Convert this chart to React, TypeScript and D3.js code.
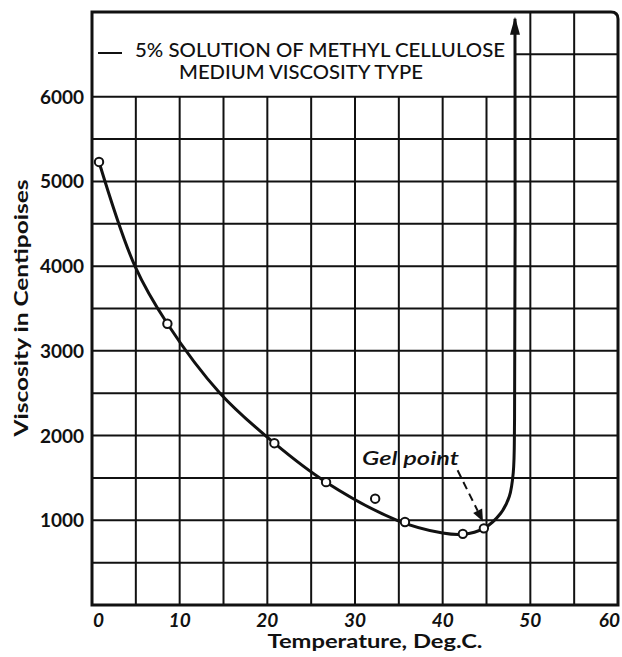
import React from "react";
import * as d3 from "d3";

// ---- data ----
const tempTicks = [0, 10, 20, 30, 40, 50, 60];
const viscTicks = [1000, 2000, 3000, 4000, 5000, 6000];
const measuredTemp = [0.8, 8.6, 20.8, 26.7, 32.3, 35.7, 42.3, 44.7];
const measuredVisc = [5230, 3320, 1910, 1450, 1255, 980, 840, 905];
// smoothed curve as drawn in the chart
const curveTemp = [0.8, 4.9, 8.6, 14.6, 20.8, 26.7, 34.8, 40.0, 42.3, 44.7, 46.6, 47.6, 48.05, 48.2, 48.25];
const curveVisc = [5230, 4000, 3320, 2500, 1910, 1450, 1000, 850, 835, 905, 1080, 1280, 1560, 2200, 6920];
const legendLines = ["5% SOLUTION OF METHYL CELLULOSE", "MEDIUM VISCOSITY TYPE"];
const gelLabel = "Gel point";
const xTitle = "Temperature, Deg.C.";
const yTitle = "Viscosity in Centipoises";

const W = 622;
const H = 657;
const FONT = "Lato, 'DejaVu Sans', sans-serif";

export default function App() {
  const x = d3.scaleLinear().domain([0, 60]).range([92, 618]);
  const y = d3.scaleLinear().domain([0, 7000]).range([605, 12]);

  const vGrid = d3.range(5, 60, 5);
  const hGrid = d3.range(500, 6001, 500);

  const curvePts: [number, number][] = curveTemp.map((t, i) => [t, curveVisc[i]]);
  const line = d3
    .line<[number, number]>()
    .x((d) => x(d[0]))
    .y((d) => y(d[1]))
    .curve(d3.curveCatmullRom.alpha(0.5));

  const last = curvePts[curvePts.length - 1];
  const ax = x(last[0]);
  const ay = y(last[1]);

  // gel point annotation in data coordinates
  const gelStart: [number, number] = [41.7, 1590];
  const gelTip: [number, number] = [44.6, 985];
  const gx0 = x(gelStart[0]);
  const gy0 = y(gelStart[1]);
  const gx1 = x(gelTip[0]);
  const gy1 = y(gelTip[1]);
  const ang = Math.atan2(gy1 - gy0, gx1 - gx0);
  const headLen = 12;
  const headW = 5;
  const bx = gx1 - headLen * Math.cos(ang);
  const by = gy1 - headLen * Math.sin(ang);
  const px = -Math.sin(ang);
  const py = Math.cos(ang);

  const left = x(0);
  const right = x(60);
  const top = y(7000);
  const bottom = y(0);
  const r = 7;

  return (
    <svg
      width={W}
      height={H}
      style={{ position: "absolute", left: 0, top: 0, background: "#fff" }}
    >
      <rect x={0} y={0} width={W} height={H} fill="#fff" />
      {/* vertical gridlines */}
      {vGrid.map((t) => (
        <line
          key={"v" + t}
          x1={x(t)}
          x2={x(t)}
          y1={y(0)}
          y2={t >= 50 ? y(7000) : y(6000)}
          stroke="#111"
          strokeWidth={2}
        />
      ))}
      {/* horizontal gridlines */}
      {hGrid.map((v) => (
        <line
          key={"h" + v}
          x1={x(0)}
          x2={x(60)}
          y1={y(v)}
          y2={y(v)}
          stroke="#111"
          strokeWidth={2}
        />
      ))}
      <line x1={x(48.25)} x2={x(60)} y1={y(6500)} y2={y(6500)} stroke="#111" strokeWidth={2} />

      {/* frame */}
      <path
        d={`M${left},${bottom} L${left},${top} L${right - r},${top} Q${right},${top} ${right},${top + r} L${right},${bottom} Z`}
        fill="none"
        stroke="#111"
        strokeWidth={3}
      />

      {/* legend */}
      <line x1={98} x2={122} y1={53} y2={53} stroke="#111" strokeWidth={2} />
      <text
        x={135}
        y={57}
        fontFamily={FONT}
        fontSize={19}
        fontWeight={500}
        textLength={370}
        lengthAdjust="spacingAndGlyphs"
        fill="#111"
      >
        {legendLines[0]}
      </text>
      <text
        x={179}
        y={79}
        fontFamily={FONT}
        fontSize={19}
        fontWeight={500}
        textLength={244}
        lengthAdjust="spacingAndGlyphs"
        fill="#111"
      >
        {legendLines[1]}
      </text>

      {/* curve */}
      <path d={line(curvePts) || ""} fill="none" stroke="#111" strokeWidth={3} />
      <path
        d={`M${ax},${ay - 2} L${ax - 5},${ay + 16} L${ax + 5},${ay + 16} Z`}
        fill="#111"
      />

      {/* measured points */}
      {measuredTemp.map((t, i) => (
        <circle
          key={"p" + i}
          cx={x(t)}
          cy={y(measuredVisc[i])}
          r={4.2}
          fill="#fff"
          stroke="#111"
          strokeWidth={2}
        />
      ))}

      {/* gel point annotation */}
      <text
        x={x(30.8)}
        y={y(1650)}
        fontFamily={FONT}
        fontStyle="italic"
        fontWeight={600}
        fontSize={19}
        textLength={97}
        lengthAdjust="spacingAndGlyphs"
        fill="#111"
      >
        {gelLabel}
      </text>
      <line
        x1={gx0}
        y1={gy0}
        x2={bx}
        y2={by}
        stroke="#111"
        strokeWidth={2}
        strokeDasharray="8,5"
      />
      <path
        d={`M${gx1},${gy1} L${bx + px * headW},${by + py * headW} L${bx - px * headW},${by - py * headW} Z`}
        fill="#111"
      />

      {/* x tick labels */}
      {tempTicks.map((t, i) => (
        <text
          key={"xt" + t}
          x={x(t) + (i === 0 ? 1 : i === tempTicks.length - 1 ? 2 : 0)}
          y={627}
          textAnchor={i === 0 ? "start" : i === tempTicks.length - 1 ? "end" : "middle"}
          fontFamily={FONT}
          fontWeight={700}
          fontStyle="italic"
          fontSize={19}
          fill="#111"
        >
          {t}
        </text>
      ))}

      {/* y tick labels */}
      {viscTicks.map((v) => (
        <text
          key={"yt" + v}
          x={84}
          y={y(v) + 7}
          textAnchor="end"
          fontFamily={FONT}
          fontWeight={700}
          fontSize={19}
          fill="#111"
        >
          {v}
        </text>
      ))}

      {/* axis titles */}
      <text
        x={375}
        y={648}
        textAnchor="middle"
        fontFamily={FONT}
        fontWeight={700}
        fontSize={19}
        textLength={215}
        lengthAdjust="spacingAndGlyphs"
        fill="#111"
      >
        {xTitle}
      </text>
      <text
        transform="translate(28,308) rotate(-90)"
        textAnchor="middle"
        fontFamily={FONT}
        fontWeight={700}
        fontSize={18}
        textLength={257}
        lengthAdjust="spacingAndGlyphs"
        fill="#111"
      >
        {yTitle}
      </text>
    </svg>
  );
}
